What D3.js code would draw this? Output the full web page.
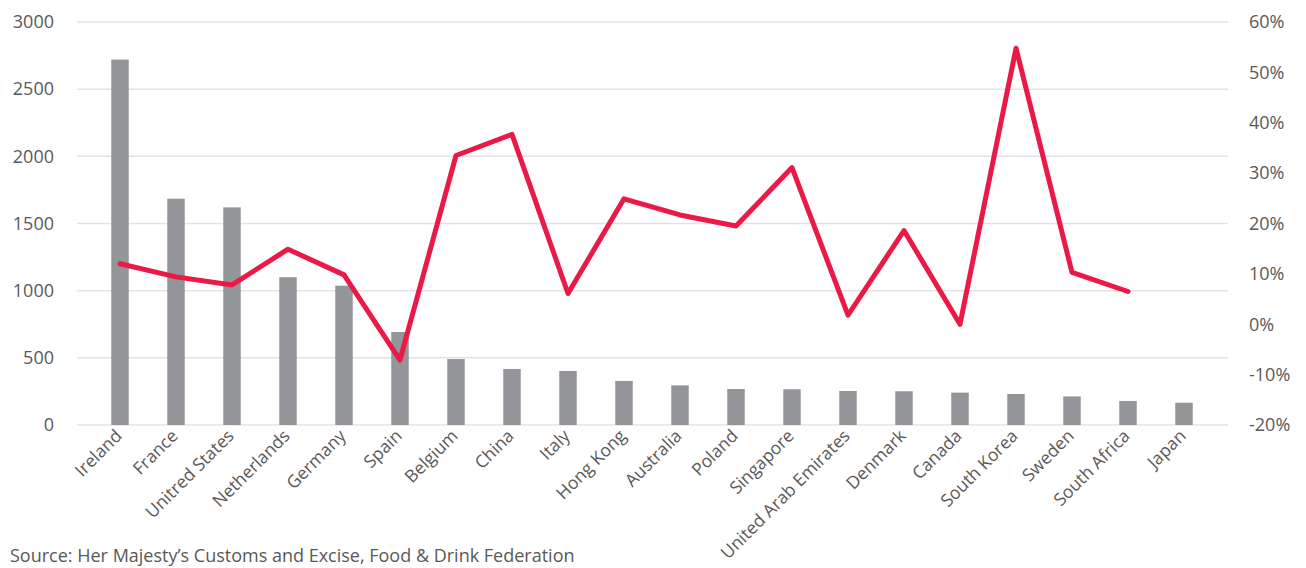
<!DOCTYPE html>
<html>
<head>
<meta charset="utf-8">
<script src="https://cdn.jsdelivr.net/npm/d3@7"></script>
<style>
  body { margin: 0; background: #fff; }
  svg text { font-family: 'Open Sans', sans-serif; fill: #595959; }
</style>
</head>
<body>
<svg class="chart"></svg>
<script>
var countries = ['Ireland', 'France', 'Unitred States', 'Netherlands', 'Germany', 'Spain', 'Belgium',
  'China', 'Italy', 'Hong Kong', 'Australia', 'Poland', 'Singapore', 'United Arab Emirates',
  'Denmark', 'Canada', 'South Korea', 'Sweden', 'South Africa', 'Japan']

// exports (left axis)
var exportValues = [2720, 1685, 1620, 1100, 1037, 692, 491, 417, 402, 328, 295, 268, 266, 253,
  251, 241, 231, 213, 179, 166]

// growth (right axis), no value for Japan
var growthValues = [0.12, 0.094, 0.078, 0.149, 0.098, -0.071, 0.335, 0.377, 0.061, 0.249,
  0.217, 0.195, 0.311, 0.018, 0.186, 0.0, 0.548, 0.103, 0.065, null]

var leftTicks = [0, 500, 1000, 1500, 2000, 2500, 3000]
var rightTicks = [-0.2, -0.1, 0, 0.1, 0.2, 0.3, 0.4, 0.5, 0.6]

var source = 'Source: Her Majesty\u2019s Customs and Excise, Food & Drink Federation'

var width = 1306, height = 568
var plot = {left: 77, right: 1228, top: 22, bottom: 425}

var svg = d3.select('.chart')
    .attr('width', width)
    .attr('height', height)

var x = d3.scaleBand()
    .domain(countries)
    .range([92, 1212])

var yLeft = d3.scaleLinear()
    .domain([0, 3000])
    .range([plot.bottom, plot.top])

var yRight = d3.scaleLinear()
    .domain([-0.2, 0.6])
    .range([plot.bottom, plot.top])

// gridlines
svg.append('g')
  .selectAll('line')
    .data(leftTicks)
  .enter().append('line')
    .attr('x1', plot.left)
    .attr('x2', plot.right)
    .attr('y1', function(d) { return yLeft(d) })
    .attr('y2', function(d) { return yLeft(d) })
    .attr('stroke', '#e3e3e3')
    .attr('stroke-width', 1.5)

// left axis
var leftAxis = svg.append('g')
    .attr('transform', 'translate(54,0)')
    .call(d3.axisLeft(yLeft).tickValues(leftTicks).tickSize(0).tickPadding(0)
      .tickFormat(function(d) { return d }))
leftAxis.select('.domain').remove()
leftAxis.selectAll('text')
    .style('font-size', '18px')
    .attr('fill', '#595959')

// right axis
var rightAxis = svg.append('g')
    .attr('transform', 'translate(1249,0)')
    .call(d3.axisRight(yRight).tickValues(rightTicks).tickSize(0).tickPadding(0)
      .tickFormat(function(d) { return Math.round(d * 100) + '%' }))
rightAxis.select('.domain').remove()
rightAxis.selectAll('text')
    .style('font-size', '18px')
    .attr('fill', '#595959')

// bars
var barWidth = 17.5
svg.append('g')
  .selectAll('rect')
    .data(exportValues)
  .enter().append('rect')
    .attr('x', function(d, i) { return x(countries[i]) + x.bandwidth() / 2 - barWidth / 2 })
    .attr('y', function(d) { return yLeft(d) })
    .attr('width', barWidth)
    .attr('height', function(d) { return yLeft(0) - yLeft(d) })
    .attr('fill', '#949598')

// growth line
var line = d3.line()
    .defined(function(d) { return d != null })
    .x(function(d, i) { return x(countries[i]) + x.bandwidth() / 2 })
    .y(function(d) { return yRight(d) })

svg.append('path')
    .datum(growthValues)
    .attr('d', line)
    .attr('fill', 'none')
    .attr('stroke', '#eb1946')
    .attr('stroke-width', 5)
    .attr('stroke-linejoin', 'round')
    .attr('stroke-linecap', 'round')

// category labels
svg.append('g')
  .selectAll('text')
    .data(countries)
  .enter().append('text')
    .attr('text-anchor', 'end')
    .attr('transform', function(d) {
      return 'translate(' + (x(d) + x.bandwidth() / 2 + 3) + ',' + 437 + ') rotate(-45)'
    })
    .style('font-size', '17.5px')
    .text(function(d) { return d })

svg.append('text')
    .attr('x', 10)
    .attr('y', 562)
    .style('font-size', '18px')
    .text(source)
</script>
</body>
</html>
